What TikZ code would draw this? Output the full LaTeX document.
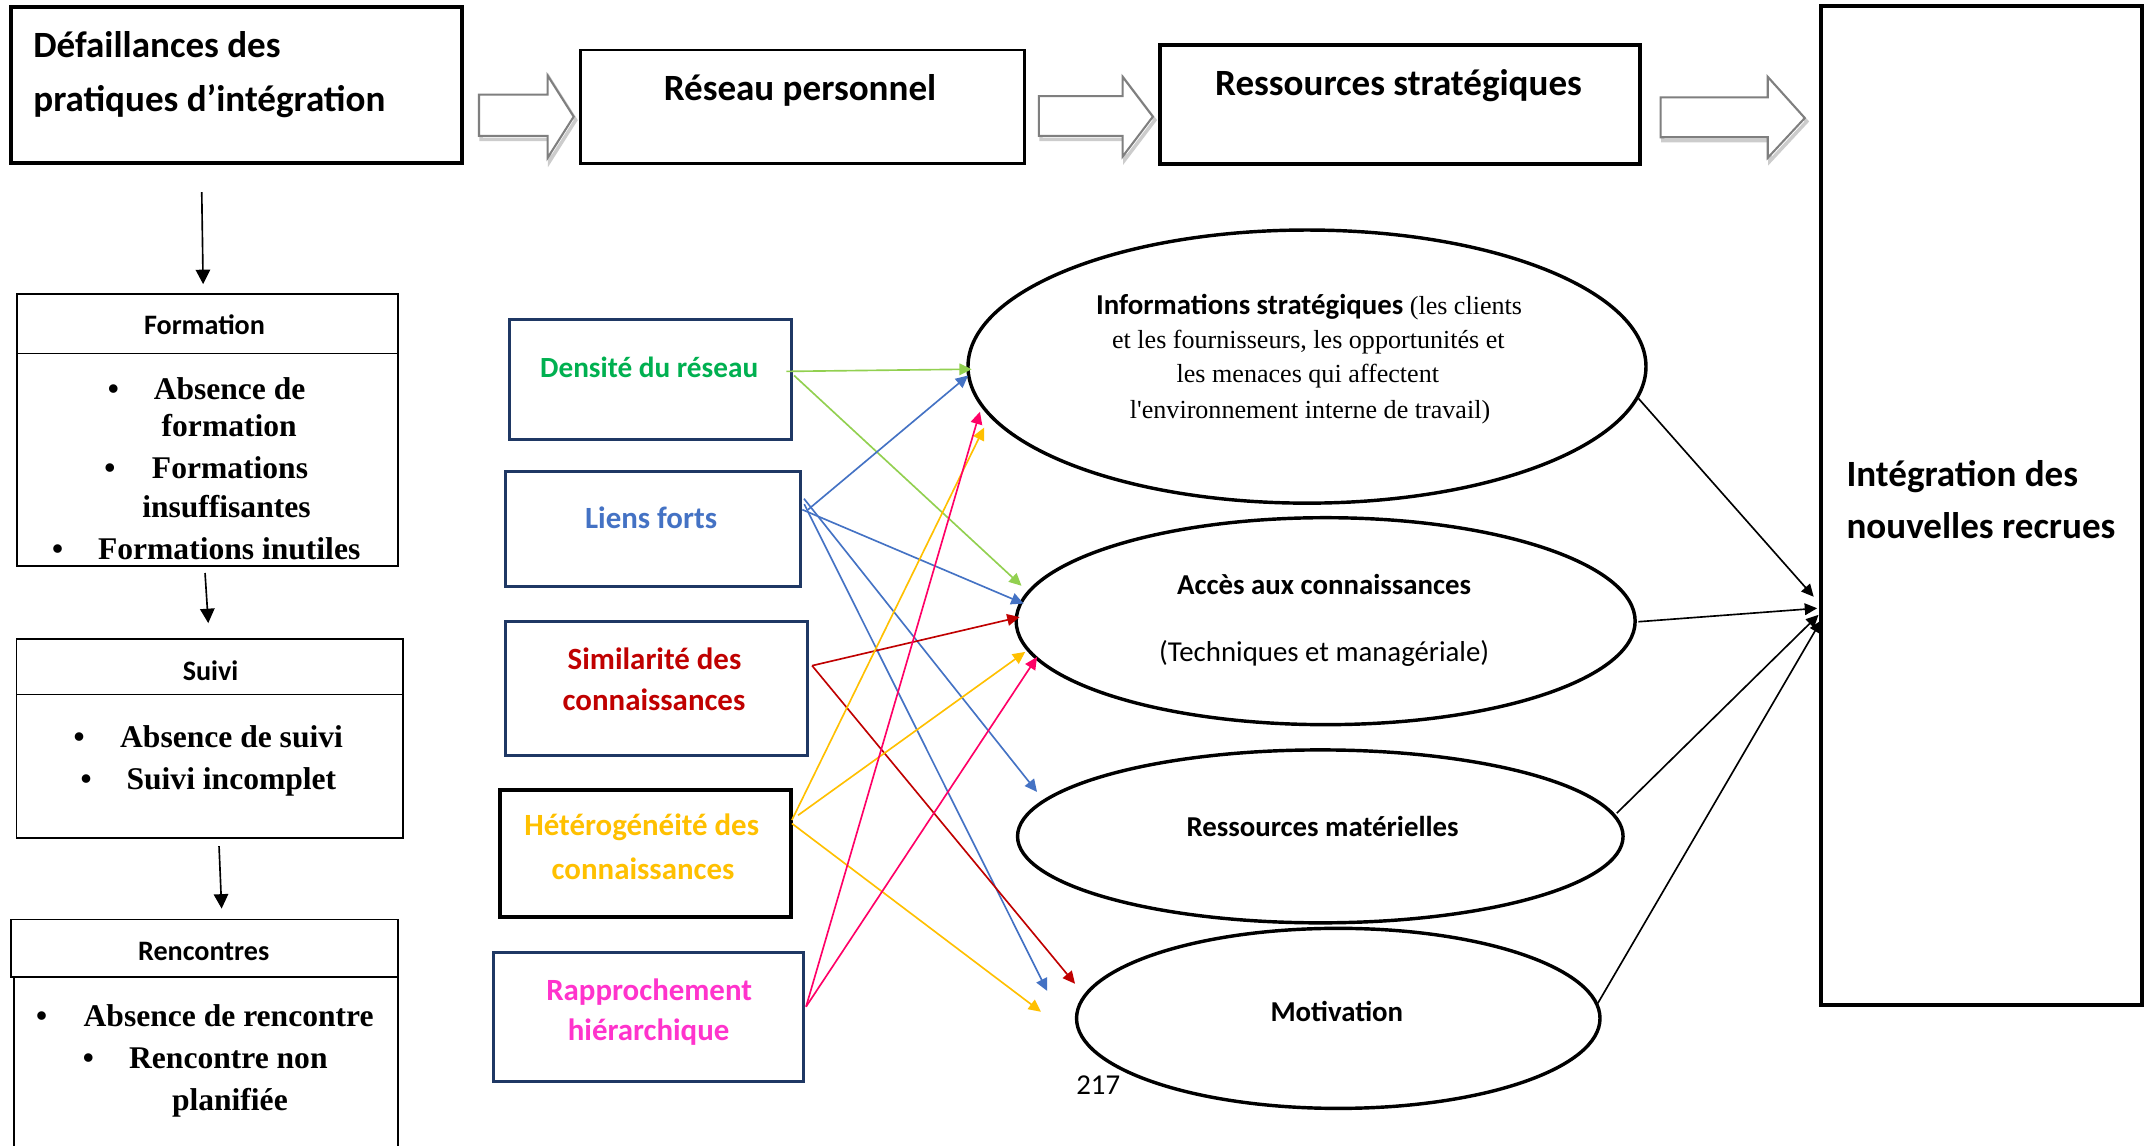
\documentclass[tikz,border=0pt]{standalone}
\usepackage{fontspec}
\setmainfont{Liberation Serif}
\newfontfamily\calfont{Carlito}
\usetikzlibrary{arrows.meta,shapes.geometric}
\definecolor{lgreen}{HTML}{92D050}
\definecolor{tgreen}{HTML}{00B050}
\definecolor{mblue}{HTML}{4472C4}
\definecolor{dred}{HTML}{C00000}
\definecolor{gold}{HTML}{FFC000}
\definecolor{tmag}{HTML}{FF33CC}
\definecolor{lmag}{HTML}{FF0066}
\definecolor{navy}{HTML}{1F3864}
\definecolor{arrgray}{HTML}{7F7F7F}
\begin{document}
\begin{tikzpicture}[x=1pt,y=-1pt,
  every node/.style={outer sep=0pt},
  thickbox/.style={draw=black,line width=3pt,inner sep=0pt},
  medbox/.style={draw=black,line width=2pt,inner sep=0pt},
  thinbox/.style={draw=black,line width=1.2pt,inner sep=0pt},
  navybox/.style={draw=navy,line width=2.2pt,inner sep=0pt},
  ell/.style={ellipse,draw=black,line width=2.5pt,inner sep=0pt},
  toptxt/.style={font=\calfont\bfseries\fontsize{27}{32}\selectfont,inner sep=0pt},
  hdrtxt/.style={font=\calfont\bfseries\fontsize{20.5}{24}\selectfont,inner sep=0pt},
  itemtxt/.style={font=\bfseries\fontsize{23}{27}\selectfont,inner sep=0pt},
  midtxt/.style={font=\calfont\bfseries\fontsize{22.5}{27}\selectfont,inner sep=0pt},
  elltxt/.style={font=\calfont\bfseries\fontsize{21}{25}\selectfont,inner sep=0pt},
  elltimes/.style={font=\fontsize{19}{23}\selectfont,inner sep=0pt},
  ellreg/.style={font=\calfont\fontsize{21}{25}\selectfont,inner sep=0pt},
  conn/.style={line width=1.2pt,-{Triangle[length=9pt,width=8.5pt]}},
  vconn/.style={line width=1.2pt,-{Triangle[length=10.5pt,width=10.5pt]}},
  hollow/.style={draw=arrgray,line width=1.5pt,fill=white,line join=miter},
  hshadow/.style={draw=gray!40,line width=2.5pt}
]
\useasboundingbox (0,0) rectangle (1568,835);
\fill[white] (0,0) rectangle (1568,835);

% ---------- top row ----------
\node[thickbox,minimum width=328.6pt,minimum height=113.7pt] (fail) at (172,62.15) {};
\node[medbox,minimum width=323.1pt,minimum height=82.6pt] (reseau) at (584.75,77.7) {};
\node[thickbox,minimum width=349.5pt,minimum height=86.7pt] (ress) at (1020.25,76.15) {};
\node[thickbox,minimum width=234.5pt,minimum height=727.5pt] (integ) at (1443.75,368.25) {};

\node[toptxt,anchor=base west] (t1a) at (24.3,41.9) {Défaillances des};
\node[toptxt,anchor=base west] (t1b) at (24.3,81) {pratiques d’intégration};
\node[toptxt,anchor=base] (t2) at (582.9,73.4) {Réseau personnel};
\node[toptxt,anchor=base] (t3) at (1019,69.5) {Ressources stratégiques};
\node[toptxt,anchor=base west] (t4a) at (1345.4,354.2) {Intégration des};
\node[toptxt,anchor=base west] (t4b) at (1345.4,392.6) {nouvelles recrues};

% hollow block arrows
\begin{scope}[shift={(1.5,2.5)}]
\draw[hshadow] (349,69) -- (399,69) -- (399,55) -- (418,85) -- (399,115) -- (399,99) -- (349,99) -- cycle;
\draw[hshadow] (757,70) -- (818,70) -- (818,56) -- (840,85) -- (818,114) -- (818,99) -- (757,99) -- cycle;
\draw[hshadow] (1210,71) -- (1288,71) -- (1288,56) -- (1315,86) -- (1288,115) -- (1288,100) -- (1210,100) -- cycle;
\end{scope}
\draw[hollow] (349,69) -- (399,69) -- (399,55) -- (418,85) -- (399,115) -- (399,99) -- (349,99) -- cycle;
\draw[hollow] (757,70) -- (818,70) -- (818,56) -- (840,85) -- (818,114) -- (818,99) -- (757,99) -- cycle;
\draw[hollow] (1210,71) -- (1288,71) -- (1288,56) -- (1315,86) -- (1288,115) -- (1288,100) -- (1210,100) -- cycle;

% ---------- left column ----------
\node[thinbox,minimum width=277.6pt,minimum height=43.5pt] (formH) at (151,235.75) {};
\node[thinbox,minimum width=277.6pt,minimum height=155pt] (formB) at (151,335) {};
\node[thinbox,minimum width=281.5pt,minimum height=40.5pt] (suivH) at (152.75,485.75) {};
\node[thinbox,minimum width=281.5pt,minimum height=104.5pt] (suivB) at (152.75,558.25) {};
\node[thinbox,minimum width=282pt,minimum height=42pt] (rencH) at (149,691) {};
\node[thinbox,minimum width=280pt,minimum height=138pt] (rencB) at (150,781) {};

\node[hdrtxt,anchor=base] (formT) at (149,243.8) {Formation};
\node[itemtxt,anchor=base] (fb1) at (82.6,291.2) {•};
\node[itemtxt,anchor=base] (f1a) at (167.3,291.2) {Absence de};
\node[itemtxt,anchor=base] (f1b) at (167,318) {formation};
\node[itemtxt,anchor=base] (fb2) at (80,349) {•};
\node[itemtxt,anchor=base] (f2a) at (167.6,349) {Formations};
\node[itemtxt,anchor=base] (f2b) at (165,377) {insuffisantes};
\node[itemtxt,anchor=base] (fb3) at (42,407.3) {•};
\node[itemtxt,anchor=base] (f3) at (167,407.3) {Formations inutiles};

\node[hdrtxt,anchor=base] (suivT) at (153.4,495.5) {Suivi};
\node[itemtxt,anchor=base] (sb1) at (57.6,545) {•};
\node[itemtxt,anchor=base] (s1) at (168.7,545) {Absence de suivi};
\node[itemtxt,anchor=base] (sb2) at (62.7,575.5) {•};
\node[itemtxt,anchor=base] (s2) at (168.6,575.5) {Suivi incomplet};

\node[hdrtxt,anchor=base] (rencT) at (148.4,699.5) {Rencontres};
\node[itemtxt,anchor=base] (rb1) at (30.4,748) {•};
\node[itemtxt,anchor=base] (r1) at (166.6,748) {Absence de rencontre};
\node[itemtxt,anchor=base] (rb2) at (64.4,778.5) {•};
\node[itemtxt,anchor=base] (r2a) at (166.4,778.5) {Rencontre non};
\node[itemtxt,anchor=base] (r2b) at (167.5,809) {planifiée};

\draw[vconn] ([xshift=-25pt,yshift=-21pt]fail.south) -- ([xshift=-3pt,yshift=7pt]formH.north);
\draw[vconn] ([xshift=-1.6pt,yshift=-5pt]formB.south) -- ([xshift=-1pt,yshift=11.5pt]suivH.north);
\draw[vconn] ([xshift=6.85pt,yshift=-6pt]suivB.south) -- ([xshift=12.5pt,yshift=8pt]rencH.north);

% ---------- middle boxes ----------
\node[navybox,minimum width=205.4pt,minimum height=87.3pt] (dens) at (473.7,276.35) {};
\node[navybox,minimum width=214.5pt,minimum height=84.3pt] (liens) at (475.75,385.35) {};
\node[navybox,minimum width=219.7pt,minimum height=97.8pt] (simil) at (478.35,501.7) {};
\node[thickbox,minimum width=212.2pt,minimum height=92.9pt] (hetero) at (470.3,622) {};
\node[navybox,minimum width=225.3pt,minimum height=94.4pt] (rappr) at (472.45,740.9) {};

\node[midtxt,font=\calfont\bfseries\fontsize{21.3}{26}\selectfont,text=tgreen,anchor=base] (densT) at (473,275.1) {Densité du réseau};
\node[midtxt,text=mblue,anchor=base] (liensT) at (474.4,385) {Liens forts};
\node[midtxt,text=dred,anchor=base] (similT1) at (476.9,487.5) {Similarité des};
\node[midtxt,text=dred,anchor=base] (similT2) at (476.5,518) {connaissances};
\node[midtxt,text=gold,anchor=base] (heteroT1) at (467.6,609) {Hétérogénéité des};
\node[midtxt,text=gold,anchor=base] (heteroT2) at (468.5,640.5) {connaissances};
\node[midtxt,text=tmag,anchor=base] (rapprT1) at (473,729) {Rapprochement};
\node[midtxt,text=tmag,anchor=base] (rapprT2) at (472.6,758.4) {hiérarchique};

% ---------- ellipses ----------
\node[ell,minimum width=494pt,minimum height=199pt] (info) at (952.3,267.1) {};
\node[ell,minimum width=451pt,minimum height=150.8pt] (acces) at (965.9,452.6) {};
\node[ell,minimum width=441.2pt,minimum height=126pt] (mat) at (962,609.4) {};
\node[ell,minimum width=381.4pt,minimum height=131.2pt] (motiv) at (975.1,742) {};

\node[elltimes,anchor=base] (infoT1) at (953.8,229) {{\calfont\bfseries\fontsize{21}{25}\selectfont Informations stratégiques} (les clients};
\node[elltimes,anchor=base] (infoT2) at (953.3,253.8) {et les fournisseurs, les opportunités et};
\node[elltimes,anchor=base] (infoT3) at (952.9,278.6) {les menaces qui affectent};
\node[elltimes,anchor=base] (infoT4) at (954.5,305) {l\textquotesingle environnement interne de travail)};
\node[elltxt,anchor=base] (accesT1) at (964.8,433.3) {Accès aux connaissances};
\node[ellreg,anchor=base] (accesT2) at (964.8,482) {(Techniques et managériale)};
\node[elltxt,anchor=base] (matT) at (963.7,609.6) {Ressources matérielles};
\node[elltxt,anchor=base] (motivT) at (974,744) {Motivation};
\node[ellreg,anchor=base] (page) at (800.2,797.6) {217};

% ---------- coloured connectors ----------
\draw[conn,lgreen] ([xshift=-3.4pt,yshift=5.75pt]dens.east) -- ([xshift=2.7pt,yshift=-1.9pt]info.west);
\draw[conn,lgreen] ([xshift=2.2pt,yshift=2.75pt]dens.east) -- ([xshift=3.9pt,yshift=25.8pt]acces.west);

\draw[conn,mblue] ([xshift=5.7pt,yshift=14pt]liens.east) -- ([xshift=0.1pt,yshift=-6.5pt]info.west);
\draw[conn,mblue] ([xshift=1.6pt,yshift=14pt]liens.east) -- ([xshift=5.4pt,yshift=12.8pt]acces.west);
\draw[conn,mblue] ([xshift=2.8pt,yshift=22pt]liens.east) -- ([xshift=14.2pt,yshift=32.4pt]mat.west);
\draw[conn,mblue] ([xshift=3pt,yshift=18pt]liens.east) -- ([xshift=-21.4pt,yshift=20pt]motiv.west);

\draw[conn,dred] ([xshift=3.5pt,yshift=16.7pt]simil.east) -- ([xshift=2.5pt,yshift=3pt]acces.west);
\draw[conn,dred] ([xshift=3.5pt,yshift=16.7pt]simil.east) -- ([xshift=-1.1pt,yshift=25.2pt]motiv.west);

\draw[conn,gold] ([xshift=0.6pt,yshift=24.5pt]hetero.east) -- ([xshift=11.7pt,yshift=-44.5pt]info.west);
\draw[conn,gold] ([xshift=5.1pt,yshift=28pt]hetero.east) -- ([xshift=6.6pt,yshift=-22.4pt]acces.west);
\draw[conn,gold] ([xshift=0.6pt,yshift=22pt]hetero.east) -- ([xshift=-25.9pt,yshift=4.8pt]motiv.west);

\draw[conn,lmag] ([xshift=2.2pt,yshift=7.4pt]rappr.east) -- ([xshift=8.7pt,yshift=-32.9pt]info.west);
\draw[conn,lmag] ([xshift=2.2pt,yshift=7.4pt]rappr.east) -- ([xshift=15.2pt,yshift=-26.1pt]acces.west);

% ---------- black connectors ----------
\draw[conn,black] ([xshift=-5.5pt,yshift=-23.2pt]info.east) -- ([xshift=-5pt,yshift=-66.55pt]integ.west);
\draw[conn,black] ([xshift=2.4pt,yshift=-0.4pt]acces.east) -- ([xshift=-2.5pt,yshift=-74.95pt]integ.west);
\draw[conn,black] ([xshift=-4.6pt,yshift=16.9pt]mat.east) -- ([xshift=-1.5pt,yshift=-79.75pt]integ.west);
\draw[conn,black] ([xshift=-1.6pt,yshift=11pt]motiv.east) -- ([xshift=0.5pt,yshift=-83.75pt]integ.west);
\end{tikzpicture}
\end{document}
